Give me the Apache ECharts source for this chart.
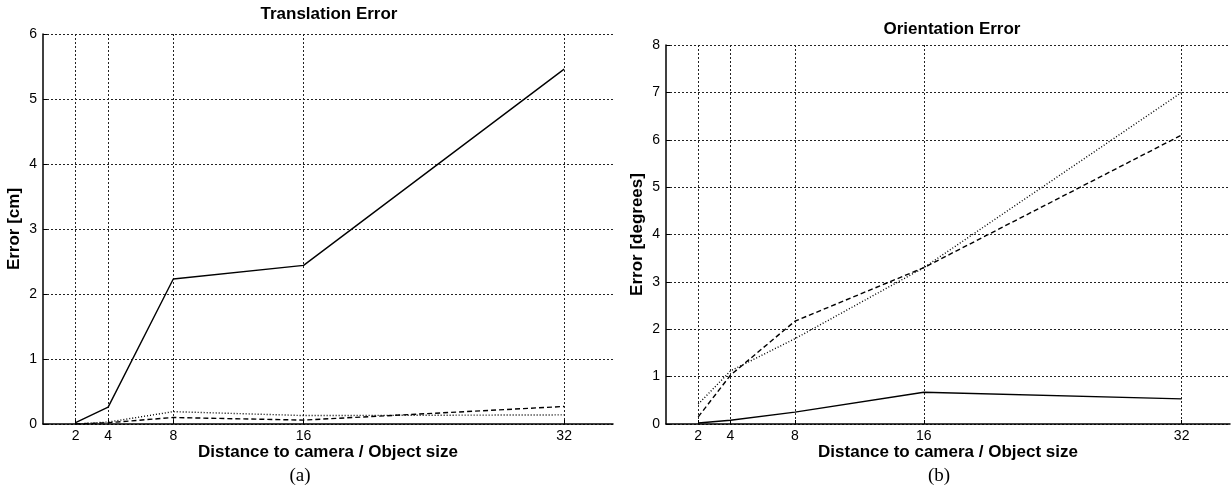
<!DOCTYPE html>
<html><head><meta charset="utf-8">
<script src="https://cdn.jsdelivr.net/npm/echarts@6/dist/echarts.min.js"></script>
<style>html,body{margin:0;padding:0;background:#fff}#c{width:1231px;height:494px}</style>
</head><body><div id="c"></div>
<script>
const distances = [2, 4, 8, 16, 32];
const xTicks = [2, 4, 8, 16, 32];
// Translation error [cm]
const transSolid  = [0.02, 0.26, 2.23, 2.44, 5.46];
const transDotted = [0.00, 0.03, 0.19, 0.13, 0.14];
const transDashed = [0.00, 0.02, 0.10, 0.06, 0.27];
// Orientation error [degrees]
const orientSolid  = [0.02, 0.08, 0.25, 0.67, 0.53];
const orientDotted = [0.42, 1.12, 1.80, 3.30, 7.00];
const orientDashed = [0.15, 1.03, 2.17, 3.30, 6.10];

const pairs = v => distances.map((d, i) => [d, v[i]]);
const FONT = '"Liberation Sans", Arial, sans-serif';
const gridLine = { show: true, lineStyle: { color: '#222', type: [2, 2], width: 1 } };
const nameStyle = { fontFamily: FONT, fontWeight: 'bold', fontSize: 17, color: '#000' };

function xAxis(idx) {
  return {
    type: 'value', gridIndex: idx, min: 0, max: 35,
    name: 'Distance to camera / Object size', nameLocation: 'middle', nameGap: 20,
    nameMoveOverlap: false,
    nameTextStyle: nameStyle,
    axisLine: { show: true, lineStyle: { color: '#000', width: 1.5 } },
    axisTick: { show: true, inside: true, length: 4, customValues: xTicks, lineStyle: { color: '#000' } },
    axisLabel: { customValues: xTicks, fontFamily: FONT, fontSize: 14, color: '#000', margin: 5 },
    splitLine: gridLine
  };
}
function yAxis(idx, max, name, gap) {
  return {
    type: 'value', gridIndex: idx, min: 0, max: max, interval: 1,
    name: name, nameLocation: 'middle', nameGap: gap,
    nameMoveOverlap: false,
    nameTextStyle: nameStyle,
    axisLine: { show: true, lineStyle: { color: '#000', width: 1.5 } },
    axisTick: { show: true, inside: true, length: 4, lineStyle: { color: '#000' } },
    axisLabel: { fontFamily: FONT, fontSize: 14, color: '#000', margin: 6 },
    splitLine: gridLine
  };
}
function line(idx, data, type) {
  return {
    type: 'line', xAxisIndex: idx, yAxisIndex: idx, data: pairs(data),
    symbol: 'none', animation: false,
    lineStyle: { color: '#000', width: 1.4, type: type }
  };
}

const chart = echarts.init(document.getElementById('c'));
chart.setOption({
  backgroundColor: '#fff',
  animation: false,
  title: [
    { text: 'Translation Error', left: 324, top: 1, textAlign: 'center',
      textStyle: nameStyle },
    { text: 'Orientation Error', left: 947, top: 16, textAlign: 'center',
      textStyle: nameStyle }
  ],
  grid: [
    { left: 43, top: 34, width: 570, height: 390 },
    { left: 666, top: 45, width: 564, height: 379 }
  ],
  xAxis: [xAxis(0), xAxis(1)],
  yAxis: [yAxis(0, 6, 'Error [cm]', 20), yAxis(1, 8, 'Error [degrees]', 20)],
  series: [
    line(0, transSolid, 'solid'),
    line(0, transDotted, [1, 2]),
    line(0, transDashed, [5, 3]),
    line(1, orientSolid, 'solid'),
    line(1, orientDotted, [1, 2]),
    line(1, orientDashed, [5, 3])
  ],
  graphic: [
    { type: 'text', x: 300, y: 476, style: { text: '(a)', font: '19px "Liberation Serif", "Times New Roman", serif', fill: '#000', align: 'center', verticalAlign: 'middle' } },
    { type: 'text', x: 939, y: 476, style: { text: '(b)', font: '19px "Liberation Serif", "Times New Roman", serif', fill: '#000', align: 'center', verticalAlign: 'middle' } }
  ]
});
</script></body></html>
